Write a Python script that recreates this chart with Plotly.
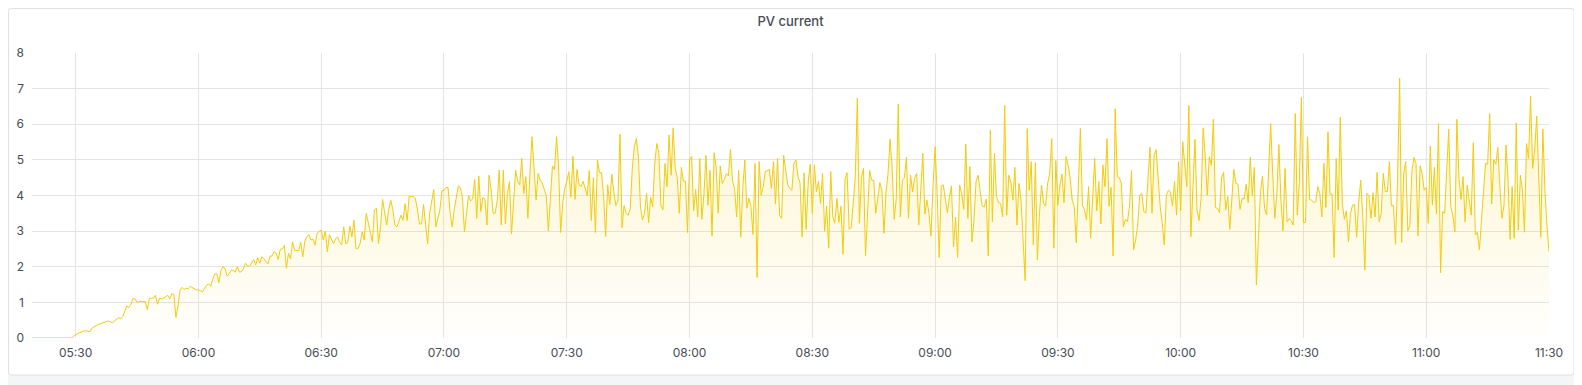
import pandas as pd
import plotly.graph_objects as go

# ---- data: PV current (A), 30-second samples ----
day = "2021-06-01 "
seg_starts = ["05:19:00", "06:05:30", "06:52:00", "07:38:30",
              "08:25:00", "09:11:30", "09:58:00", "10:44:30"]

pv_a = [0.0] * 21 + [
    0.05, 0.10, 0.13, 0.15, 0.18, 0.20, 0.20, 0.20, 0.18, 0.28,
    0.32, 0.35, 0.38, 0.40, 0.42, 0.43, 0.45, 0.48, 0.45, 0.43,
    0.48, 0.53, 0.57, 0.55, 0.60, 0.75, 0.90, 0.85, 0.95, 1.10,
    1.10, 1.00, 1.02, 1.03, 1.02, 1.03, 0.80, 1.10, 1.12, 1.12,
    1.20, 0.95, 1.12, 1.10, 1.12, 1.15, 1.20, 1.10, 1.25, 1.22,
    0.58, 0.90, 1.35, 1.42, 1.36, 1.40, 1.38, 1.45, 1.42, 1.38,
    1.35, 1.35, 1.32, 1.30, 1.40, 1.48, 1.52, 1.45, 1.65, 1.80,
    1.80, 1.55]
pv_b = [
    1.9, 2.0, 1.95, 1.74, 1.8, 1.9, 1.9, 1.85, 2.0, 1.85,
    1.86, 1.95, 2.1, 2.02, 2.02, 2.12, 2.2, 2.05, 2.25, 2.1,
    2.28, 2.22, 2.15, 2.08, 2.3, 2.3, 2.42, 2.38, 2.2, 2.49,
    2.5, 2.6, 1.96, 2.38, 2.22, 2.7, 2.46, 2.45, 2.45, 2.69,
    2.28, 2.72, 2.84, 2.9, 2.75, 2.78, 2.61, 2.94, 3.0, 3.02,
    2.75, 3.0, 2.42, 2.9, 2.75, 2.65, 2.78, 2.84, 2.7, 2.61,
    3.12, 2.65, 2.68, 3.14, 2.84, 3.3, 2.5, 2.52, 2.65, 2.98,
    2.75, 3.5, 3.24, 2.94, 2.7, 3.6, 3.64, 2.65, 3.12, 3.89,
    3.5, 3.17, 3.6, 3.87, 3.6, 3.17, 3.12, 3.3, 3.45, 3.3,
    3.77, 3.3, 3.98]
pv_c = [
    3.97, 3.97, 3.92, 3.62, 3.2, 3.2, 3.75, 3.1, 2.64, 3.5,
    3.85, 4.17, 3.12, 3.35, 3.6, 4.13, 4.15, 4.23, 4.22, 3.5,
    3.12, 3.6, 4.0, 4.27, 4.22, 3.95, 2.98, 3.5, 4.0, 3.85,
    3.9, 4.45, 3.36, 4.55, 3.55, 3.95, 3.9, 3.17, 4.57, 4.2,
    3.5, 3.5, 3.85, 4.71, 3.17, 4.71, 3.2, 4.06, 4.39, 2.92,
    3.87, 4.71, 4.4, 4.3, 5.04, 4.06, 4.53, 3.36, 4.62, 5.65,
    4.8, 3.87, 4.62, 4.43, 4.35, 4.2, 4.0, 3.01, 3.97, 4.83,
    4.72, 5.65, 4.8, 2.96, 3.8, 4.2, 4.4, 4.67, 3.95, 5.1,
    3.89, 4.73, 4.3, 4.25, 4.4, 4.2, 4.0, 4.7, 3.3, 4.5,
    2.96, 5.0, 4.64]
pv_d = [
    4.64, 3.97, 2.85, 4.3, 3.75, 4.6, 4.1, 3.72, 3.85, 5.72,
    3.1, 3.72, 3.5, 3.45, 3.62, 4.75, 5.37, 5.6, 5.09, 3.69,
    3.31, 3.5, 4.06, 3.24, 3.95, 3.69, 4.9, 5.46, 5.2, 3.73,
    3.6, 4.9, 4.25, 5.7, 4.57, 5.9, 4.76, 4.5, 3.5, 4.79,
    4.4, 4.4, 2.96, 5.0, 5.1, 3.57, 4.17, 3.4, 5.04, 3.33,
    4.0, 5.13, 3.73, 4.71, 2.86, 5.2, 4.8, 3.5, 4.83, 4.34,
    4.45, 4.62, 4.55, 5.3, 4.4, 4.2, 3.4, 4.71, 2.83, 4.2,
    5.0, 3.64, 3.92, 3.7, 2.91, 4.9, 1.7, 4.95, 4.01, 4.25,
    4.67, 4.7, 4.73, 4.2, 4.95, 3.76, 5.04, 3.45, 3.36, 5.13,
    4.7, 4.3, 4.2]
pv_e = [
    4.15, 4.9, 5.0, 4.53, 4.35, 2.84, 4.64, 3.05, 4.4, 4.88,
    3.5, 4.86, 4.1, 4.4, 3.78, 4.62, 3.0, 3.7, 2.52, 4.67,
    3.4, 3.22, 3.92, 3.25, 3.7, 2.35, 4.48, 4.64, 3.05, 3.1,
    3.95, 4.53, 6.73, 3.22, 4.5, 4.76, 2.3, 3.5, 4.7, 4.43,
    4.43, 3.5, 3.87, 4.36, 4.15, 2.94, 4.1, 4.62, 5.58, 4.8,
    3.33, 3.9, 6.57, 3.4, 4.43, 4.5, 5.07, 3.36, 4.57, 4.1,
    4.5, 4.62, 3.17, 4.3, 5.18, 3.48, 3.87, 3.5, 2.86, 4.3,
    5.37, 4.06, 2.26, 4.27, 4.3, 3.9, 3.52, 3.95, 4.27, 2.56,
    3.39, 2.26, 4.29, 4.05, 3.61, 5.44, 3.36, 4.81, 2.7, 3.3,
    4.39, 4.57, 4.2]
pv_f = [
    3.7, 3.68, 3.9, 2.3, 5.84, 3.26, 5.18, 3.97, 3.8, 3.78,
    3.4, 6.53, 3.45, 4.57, 4.38, 3.87, 4.79, 3.17, 4.34, 3.87,
    2.66, 1.61, 5.88, 4.15, 4.95, 2.61, 4.92, 2.19, 3.5, 4.29,
    3.78, 3.7, 4.34, 4.62, 5.6, 2.52, 4.98, 3.73, 4.3, 4.6,
    3.8, 5.09, 4.85, 4.5, 3.87, 3.69, 2.68, 4.6, 5.88, 3.73,
    3.6, 3.31, 4.25, 2.8, 3.97, 5.04, 3.57, 4.39, 3.2, 4.86,
    4.25, 5.6, 3.7, 4.23, 2.3, 6.43, 4.53, 4.5, 4.35, 3.12,
    3.33, 3.27, 3.69, 4.7, 2.47, 2.75, 3.17, 4.01, 4.05, 3.55,
    3.5, 4.34, 5.35, 3.5, 5.13, 5.29, 4.43, 3.69, 3.22, 2.61,
    4.01, 4.15, 4.1]
pv_g = [
    3.7, 4.4, 3.45, 4.95, 3.57, 5.51, 4.9, 4.25, 6.53, 2.84,
    4.25, 5.58, 3.59, 3.3, 3.95, 5.9, 5.1, 4.01, 5.09, 4.85,
    6.14, 3.66, 3.64, 3.52, 4.5, 4.65, 3.59, 3.97, 3.05, 3.8,
    4.73, 4.34, 4.32, 3.61, 3.92, 3.9, 4.32, 3.8, 5.07, 4.0,
    4.79, 1.49, 2.85, 4.11, 4.55, 3.64, 3.45, 4.81, 6.02, 4.57,
    3.36, 4.05, 5.43, 3.87, 3.01, 4.76, 3.26, 3.35, 3.3, 3.17,
    6.3, 3.45, 4.4, 6.75, 3.24, 3.24, 5.65, 3.89, 3.87, 3.8,
    3.82, 4.25, 4.06, 3.4, 4.9, 3.67, 5.79, 4.04, 4.04, 2.26,
    5.04, 3.59, 6.19, 3.78, 3.33, 3.57, 2.7, 3.5, 3.73, 3.75,
    2.83, 3.8, 4.43]
pv_h = [
    3.4, 1.91, 4.06, 4.0, 3.36, 4.08, 3.4, 4.65, 3.26, 3.5,
    4.62, 4.11, 4.11, 4.95, 3.71, 3.72, 2.63, 4.43, 7.29, 2.68,
    4.62, 4.95, 3.01, 3.17, 4.67, 5.07, 4.9, 2.87, 4.83, 4.62,
    4.15, 4.23, 3.22, 5.39, 3.73, 4.79, 3.48, 6.02, 1.83, 3.55,
    3.5, 4.9, 5.86, 3.69, 3.45, 2.98, 6.14, 4.48, 3.89, 4.53,
    3.26, 4.29, 3.9, 3.45, 5.48, 2.89, 2.97, 2.47, 3.31, 4.15,
    4.9, 4.88, 6.3, 3.76, 5.0, 4.88, 5.35, 4.25, 3.36, 3.73,
    5.42, 4.43, 2.77, 4.25, 2.8, 6.04, 3.03, 4.57, 4.15, 2.97,
    5.46, 5.04, 6.79, 4.76, 5.28, 6.23, 4.43, 2.83, 5.86, 4.15,
    3.17, 2.42]

segments = [pv_a, pv_b, pv_c, pv_d, pv_e, pv_f, pv_g, pv_h]

y_ticks = [0, 1, 2, 3, 4, 5, 6, 7, 8]
x_range = [day + "05:19:20", day + "11:30:00"]
title_text = "PV current"

times, values = [], []
for start, seg in zip(seg_starts, segments):
    t0 = pd.Timestamp(day + start)
    for i, v in enumerate(seg):
        times.append(t0 + pd.Timedelta(seconds=30 * i))
        values.append(v)

# ---- layout geometry (figure pixels; page body adds an 8px offset) ----
W, H = 1582, 385
OFF = 8
ml, mt = 32 - OFF, 53 - OFF
mr, mb = W - (1549 - OFF), H - (338 - OFF)
pw, ph = W - ml - mr, H - mt - mb

def px_x(x):
    return (x - ml) / pw

def px_y(y):
    return (H - mb - y) / ph

# rounded panel (figure coords)
x0, x1, y0, y1, r = 0.5, 1574 - OFF, 0.5, 375 - OFF, 3
rx, ry = r / pw, r / ph
X0, X1, Y0, Y1 = px_x(x0), px_x(x1), px_y(y1), px_y(y0)
panel_path = (
    f"M {X0+rx},{Y1} L {X1-rx},{Y1} Q {X1},{Y1} {X1},{Y1-ry} "
    f"L {X1},{Y0+ry} Q {X1},{Y0} {X1-rx},{Y0} L {X0+rx},{Y0} "
    f"Q {X0},{Y0} {X0},{Y0+ry} L {X0},{Y1-ry} Q {X0},{Y1} {X0+rx},{Y1} Z"
)

line_color = "#F2CC0C"

fig = go.Figure()
fig.add_trace(go.Scatter(
    x=times, y=values, mode="lines",
    line=dict(color=line_color, width=1),
    fill="tozeroy",
    fillgradient=dict(
        type="vertical",
        colorscale=[[0, "rgba(242,204,12,0.01)"], [1, "rgba(242,204,12,0.22)"]],
    ),
    hoverinfo="x+y", showlegend=False,
))

fig.update_layout(
    width=W, height=H,
    margin=dict(l=ml, r=mr, t=mt, b=mb, autoexpand=False),
    paper_bgcolor="#f4f5f7",
    plot_bgcolor="rgba(0,0,0,0)",
    font=dict(family="Inter, Roboto, sans-serif", size=12, color="#464c54"),
    title=dict(text=title_text, x=0.5, xref="paper", y=1 - (21 - OFF) / H, yref="container",
               xanchor="center", yanchor="middle",
               font=dict(size=13, color="#464c54", weight=500)),
    shapes=[dict(type="path", path=panel_path, xref="paper", yref="paper",
                 fillcolor="#ffffff", line=dict(color="#dce1e6", width=1),
                 layer="below")],
    showlegend=False,
)
fig.update_xaxes(
    range=x_range, type="date", tickformat="%H:%M", dtick=30 * 60 * 1000,
    tick0=day + "05:30:00", automargin=False,
    showgrid=True, gridcolor="#e4e4e4", gridwidth=1,
    zeroline=False, showline=False, ticks="", ticklen=0, ticklabelstandoff=6,
    tickfont=dict(size=12, color="#464c54"),
)
fig.update_yaxes(
    range=[0, 8], tickvals=y_ticks, ticktext=[str(v) for v in y_ticks],
    automargin=False,
    showgrid=True, gridcolor="#e4e4e4", gridwidth=1,
    zeroline=False, showline=False, ticks="", ticklen=0, ticklabelstandoff=7,
    tickfont=dict(size=12, color="#464c54"),
)

fig.write_html("out.html")
